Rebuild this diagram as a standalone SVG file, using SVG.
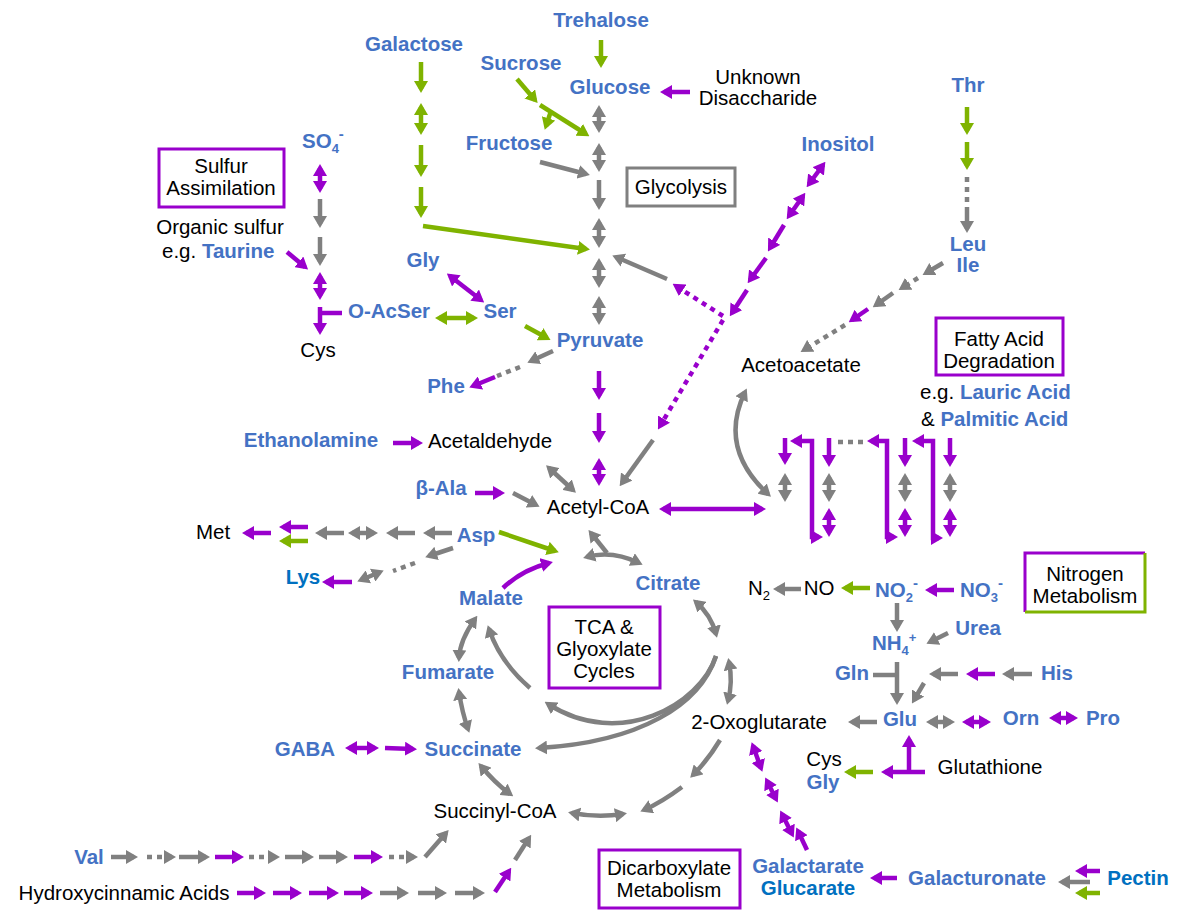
<svg xmlns="http://www.w3.org/2000/svg" width="1186" height="920" viewBox="0 0 1186 920">
<defs>
<style>
text{font-family:"Liberation Sans",Arial,sans-serif;font-size:20.5px;text-anchor:middle;fill:#000}
.b{fill:#4472C4;font-weight:bold}
.db{fill:#0070C0;font-weight:bold}
.s{text-anchor:start}
#connectors path{fill:none;stroke-width:4.5}
.g{stroke:#808080}.p{stroke:#9900CC}.n{stroke:#7FB300}
.d{stroke-dasharray:5 5}
.g.e{marker-end:url(#mg)}.g.bo{marker-start:url(#mg);marker-end:url(#mg)}
.p.e{marker-end:url(#mp)}.p.bo{marker-start:url(#mp);marker-end:url(#mp)}
.n.e{marker-end:url(#mn)}.n.bo{marker-start:url(#mn);marker-end:url(#mn)}
.box{fill:#fff;stroke-width:3}
</style>
<marker id="mg" viewBox="0 0 12 14" markerWidth="12" markerHeight="14" refX="8" refY="7" markerUnits="userSpaceOnUse" orient="auto-start-reverse"><path d="M0,0 L12,7 L0,14 z" fill="#808080" stroke="none"/></marker>
<marker id="mp" viewBox="0 0 12 14" markerWidth="12" markerHeight="14" refX="8" refY="7" markerUnits="userSpaceOnUse" orient="auto-start-reverse"><path d="M0,0 L12,7 L0,14 z" fill="#9900CC" stroke="none"/></marker>
<marker id="mn" viewBox="0 0 12 14" markerWidth="12" markerHeight="14" refX="8" refY="7" markerUnits="userSpaceOnUse" orient="auto-start-reverse"><path d="M0,0 L12,7 L0,14 z" fill="#7FB300" stroke="none"/></marker>
</defs>
<rect width="1186" height="920" fill="#fff"/>

<g id="connectors">
<!-- glycolysis column -->
<path class="n e" d="M601,40 V64"/>
<path class="g bo" d="M599,109 V129"/>
<path class="g bo" d="M599,147 V168"/>
<path class="g e" d="M599,180 V206"/>
<path class="g bo" d="M599,222 V244"/>
<path class="g bo" d="M599,262 V284"/>
<path class="g bo" d="M599,300 V321"/>
<path class="p e" d="M599,371 V396"/>
<path class="p e" d="M599,413 V439"/>
<path class="p bo" d="M599,462 V482"/>
<path class="p e" d="M690,92 H664"/>
<!-- galactose -->
<path class="n e" d="M421,62 V89"/>
<path class="n bo" d="M421,107 V131"/>
<path class="n e" d="M421,145 V173"/>
<path class="n e" d="M421,187 V214"/>
<path class="n e" d="M423,226 L586,249"/>
<!-- sucrose -->
<path class="n e" d="M517,79 L535,100"/>
<path class="n e" d="M540,105 L586,134"/>
<path class="n e" d="M551,111 L546,126"/>
<path class="g e" d="M540,162 L586,174"/>
<!-- inositol -->
<path class="g e" d="M667,279 L616,257"/>
<path class="p d e" d="M723,316 L676,286"/>
<path class="p d e" d="M723,320 L660,426"/>
<path class="g e" d="M653,440 L622,483"/>
<path class="p bo" d="M823,165 L809,184"/>
<path class="p bo" d="M803,196 L789,216"/>
<path class="p e" d="M784,225 L770,248"/>
<path class="p e" d="M766,258 L750,280"/>
<path class="p e" d="M747,290 L732,313"/>
<!-- Thr -->
<path class="n e" d="M967,107 V131"/>
<path class="n e" d="M967,142 V166"/>
<path class="g d" d="M967,177 V202"/>
<path class="g e" d="M967,207 V229"/>
<path class="g e" d="M943,263 L926,273"/>
<path class="g d e" d="M918,278 L902,288"/>
<path class="g e" d="M893,293 L876,305"/>
<path class="p e" d="M868,309 L852,320"/>
<path class="g d e" d="M845,325 L804,350"/>
<!-- acetoacetate / fatty acids -->
<path class="g bo" d="M745,392 Q718,448 768,494"/>
<path class="p bo" d="M663,509 H762"/>
<path class="p e" d="M785,438 V461"/>
<path class="g bo" d="M785,477 V498"/>
<path class="p bo" d="M794,441 H812 V537 H819"/>
<path class="p e" d="M829,438 V463"/>
<path class="g bo" d="M829,477 V498"/>
<path class="p bo" d="M829,512 V533"/>
<path class="g d" d="M838,442 H863"/>
<path class="p bo" d="M871,441 H887 V537 H894"/>
<path class="p e" d="M905,438 V463"/>
<path class="g bo" d="M905,477 V498"/>
<path class="p bo" d="M905,512 V533"/>
<path class="p bo" d="M916,441 H933 V538 H939"/>
<path class="p e" d="M950,438 V463"/>
<path class="g bo" d="M950,477 V498"/>
<path class="p bo" d="M950,512 V533"/>
<!-- sulfur -->
<path class="p bo" d="M320,168 V189"/>
<path class="g e" d="M320,199 V224"/>
<path class="g e" d="M320,237 V262"/>
<path class="p bo" d="M320,276 V296"/>
<path class="p e" d="M320,307 V331"/>
<path class="p" d="M318,313 H342"/>
<path class="p e" d="M287,252 L305,267"/>
<path class="p bo" d="M450,276 L481,300"/>
<path class="n bo" d="M439,318 H474"/>
<path class="n e" d="M525,326 L547,338"/>
<path class="g e" d="M553,351 L531,361"/>
<path class="g d" d="M520,367 L497,376"/>
<path class="p e" d="M495,377 L473,386"/>
<!-- acetyl-coa inputs -->
<path class="p e" d="M393,443 H419"/>
<path class="g bo" d="M549,468 L573,490"/>
<path class="p e" d="M475,493 H501"/>
<path class="g e" d="M513,493 L536,505"/>
<!-- Asp / Met / Lys -->
<path class="p e" d="M271,533 H246"/>
<path class="p e" d="M308,527 H283"/>
<path class="n e" d="M308,541 H283"/>
<path class="g e" d="M344,533 H319"/>
<path class="g bo" d="M352,533 H374"/>
<path class="g e" d="M415,533 H390"/>
<path class="g e" d="M452,533 H427"/>
<path class="g e" d="M453,548 L429,556"/>
<path class="g d" d="M415,563 L393,571"/>
<path class="g bo" d="M380,572 L361,580"/>
<path class="p e" d="M352,582 H326"/>
<path class="n e" d="M499,532 L555,551"/>
<path class="p e" d="M503,588 Q522,570 549,563"/>
<path class="g e" d="M607,553 L591,533"/>
<path class="g bo" d="M587,557 Q612,550 639,563"/>
<!-- TCA -->
<path class="g bo" d="M696,602 Q711,615 716,634"/>
<path class="g bo" d="M729,662 Q733,682 728,701"/>
<path class="g e" d="M530,688 Q500,662 489,629"/>
<path class="g e" d="M716,656 C700,705 620,750 548,704"/>
<path class="g e" d="M716,656 C700,705 640,742 539,748"/>
<path class="g bo" d="M475,619 Q460,640 459,658"/>
<path class="g bo" d="M459,692 Q462,712 468,729"/>
<path class="g bo" d="M481,766 Q495,783 510,794"/>
<path class="g bo" d="M572,813 Q598,818 623,814"/>
<path class="g e" d="M720,740 Q708,760 693,775"/>
<path class="g e" d="M682,787 Q662,802 644,810"/>
<!-- GABA -->
<path class="p bo" d="M349,748 H375"/>
<path class="p e" d="M385,748 L413,749"/>
<!-- Val row -->
<path class="g e" d="M111,857 H134"/>
<path class="g d e" d="M147,857 H172"/>
<path class="g e" d="M179,857 H206"/>
<path class="p e" d="M215,857 H240"/>
<path class="g d e" d="M249,857 H276"/>
<path class="g e" d="M285,857 H310"/>
<path class="g e" d="M319,857 H344"/>
<path class="p e" d="M354,857 H379"/>
<path class="g d e" d="M389,857 H414"/>
<path class="g e" d="M425,857 L446,833"/>
<!-- Hydroxycinnamic row -->
<path class="p e" d="M237,893 H262"/>
<path class="p e" d="M273,893 H298"/>
<path class="p e" d="M309,893 H335"/>
<path class="p e" d="M344,893 H369"/>
<path class="g e" d="M380,893 H405"/>
<path class="g e" d="M418,893 H443"/>
<path class="g e" d="M455,893 H481"/>
<path class="p e" d="M495,892 L509,871"/>
<path class="g e" d="M515,860 L529,838"/>
<!-- Nitrogen -->
<path class="g e" d="M801,589 H777"/>
<path class="n e" d="M870,588 H845"/>
<path class="p e" d="M954,590 H929"/>
<path class="g e" d="M897,603 V628"/>
<path class="g e" d="M948,633 L930,642"/>
<path class="g" d="M873,675 H897"/>
<path class="g e" d="M897,662 V701"/>
<path class="g e" d="M924,683 L914,700"/>
<path class="g e" d="M958,674 H933"/>
<path class="p e" d="M995,674 H970"/>
<path class="g e" d="M1032,674 H1006"/>
<path class="g e" d="M877,722 H852"/>
<path class="g bo" d="M930,722 H951"/>
<path class="p bo" d="M966,722 H987"/>
<path class="p bo" d="M1053,718 H1074"/>
<path class="p e" d="M925,772 H885"/>
<path class="p e" d="M909,772 V739"/>
<path class="n e" d="M873,772 H848"/>
<!-- Dicarboxylate -->
<path class="p bo" d="M753,746 L761,768"/>
<path class="p bo" d="M767,781 L776,799"/>
<path class="p bo" d="M782,814 L792,834"/>
<path class="p e" d="M807,850 L798,831"/>
<path class="p e" d="M897,878 H874"/>
<path class="p e" d="M1100,871 H1079"/>
<path class="g e" d="M1090,882 H1062"/>
<path class="n e" d="M1100,893 H1079"/>
</g>

<g id="box-sulfur"><rect class="box" x="159" y="149" width="125" height="58" stroke="#9900CC"/><text x="221" y="173">Sulfur</text><text x="221" y="195">Assimilation</text></g>
<g id="box-glycolysis"><rect class="box" x="627" y="168" width="108" height="38" stroke="#808080"/><text x="681" y="194">Glycolysis</text></g>
<g id="box-fatty"><rect class="box" x="936" y="318" width="127" height="57" stroke="#9900CC"/><text x="999" y="346">Fatty Acid</text><text x="999" y="368">Degradation</text></g>
<g id="box-tca"><rect class="box" x="549" y="607" width="111" height="81" stroke="#9900CC"/><text x="604" y="634">TCA &amp;</text><text x="604" y="656">Glyoxylate</text><text x="604" y="678">Cycles</text></g>
<g id="box-nitrogen"><rect x="1025" y="553" width="120" height="59" fill="#fff"/><path d="M1025,612 V553 H1145" fill="none" stroke="#9900CC" stroke-width="3"/><path d="M1145,553 V612 H1025" fill="none" stroke="#7FB300" stroke-width="3"/><text x="1085" y="581">Nitrogen</text><text x="1085" y="603">Metabolism</text></g>
<g id="box-dicarboxylate"><rect class="box" x="599" y="850" width="141" height="58" stroke="#9900CC"/><text x="669" y="875">Dicarboxylate</text><text x="669" y="897">Metabolism</text></g>

<g id="n-trehalose"><text class="b" x="601" y="27">Trehalose</text></g>
<g id="n-galactose"><text class="b" x="414" y="51">Galactose</text></g>
<g id="n-sucrose"><text class="b" x="521" y="70">Sucrose</text></g>
<g id="n-glucose"><text class="b" x="610" y="94">Glucose</text></g>
<g id="n-unknown"><text x="758" y="84">Unknown</text><text x="758" y="105">Disaccharide</text></g>
<g id="n-fructose"><text class="b" x="509" y="150">Fructose</text></g>
<g id="n-inositol"><text class="b" x="838" y="151">Inositol</text></g>
<g id="n-thr"><text class="b" x="968" y="92">Thr</text></g>
<g id="n-so4"><text class="b s" x="302" y="148">SO<tspan font-size="13" dy="5">4</tspan><tspan font-size="15" dy="-14">-</tspan></text></g>
<g id="n-orgsulfur"><text x="220" y="234">Organic sulfur</text><text class="s" x="162" y="258">e.g. <tspan class="b">Taurine</tspan></text></g>
<g id="n-leu"><text class="b" x="968" y="251">Leu</text><text class="b" x="968" y="272">Ile</text></g>
<g id="n-gly"><text class="b" x="423" y="267">Gly</text></g>
<g id="n-oacser"><text class="b" x="389" y="318">O-AcSer</text></g>
<g id="n-ser"><text class="b" x="500" y="318">Ser</text></g>
<g id="n-pyruvate"><text class="b" x="600" y="347">Pyruvate</text></g>
<g id="n-cys"><text x="318" y="357">Cys</text></g>
<g id="n-acetoacetate"><text x="801" y="372">Acetoacetate</text></g>
<g id="n-phe"><text class="b" x="446" y="393">Phe</text></g>
<g id="n-fattyacids"><text class="s" x="920" y="399">e.g. <tspan class="b">Lauric Acid</tspan></text><text class="s" x="921" y="426">&amp; <tspan class="b">Palmitic Acid</tspan></text></g>
<g id="n-ethanolamine"><text class="b" x="311" y="447">Ethanolamine</text></g>
<g id="n-acetaldehyde"><text x="490" y="448">Acetaldehyde</text></g>
<g id="n-bala"><text class="b" x="441" y="495">β-Ala</text></g>
<g id="n-acetylcoa"><text x="598" y="514">Acetyl-CoA</text></g>
<g id="n-met"><text x="213" y="539">Met</text></g>
<g id="n-asp"><text class="b" x="476" y="542">Asp</text></g>
<g id="n-lys"><text class="db" x="303" y="584">Lys</text></g>
<g id="n-citrate"><text class="b" x="668" y="590">Citrate</text></g>
<g id="n-n2"><text class="s" x="748" y="595">N<tspan font-size="13" dy="5">2</tspan></text></g>
<g id="n-no"><text x="819" y="595">NO</text></g>
<g id="n-no2"><text class="b s" x="875" y="597">NO<tspan font-size="13" dy="5">2</tspan><tspan font-size="15" dy="-14">-</tspan></text></g>
<g id="n-no3"><text class="b s" x="960" y="597">NO<tspan font-size="13" dy="5">3</tspan><tspan font-size="15" dy="-14">-</tspan></text></g>
<g id="n-malate"><text class="b" x="491" y="605">Malate</text></g>
<g id="n-urea"><text class="b" x="978" y="635">Urea</text></g>
<g id="n-nh4"><text class="b s" x="872" y="650">NH<tspan font-size="13" dy="5">4</tspan><tspan font-size="13" dy="-13">+</tspan></text></g>
<g id="n-fumarate"><text class="b" x="448" y="679">Fumarate</text></g>
<g id="n-gln"><text class="b" x="852" y="680">Gln</text></g>
<g id="n-his"><text class="b" x="1057" y="680">His</text></g>
<g id="n-oxoglutarate"><text x="759" y="729">2-Oxoglutarate</text></g>
<g id="n-glu"><text class="b" x="900" y="726">Glu</text></g>
<g id="n-orn"><text class="b" x="1021" y="725">Orn</text></g>
<g id="n-pro"><text class="b" x="1103" y="725">Pro</text></g>
<g id="n-gaba"><text class="b" x="305" y="756">GABA</text></g>
<g id="n-succinate"><text class="b" x="473" y="756">Succinate</text></g>
<g id="n-cysgly"><text x="824" y="766">Cys</text><text class="b" x="823" y="789">Gly</text></g>
<g id="n-glutathione"><text x="990" y="774">Glutathione</text></g>
<g id="n-succinylcoa"><text x="495" y="818">Succinyl-CoA</text></g>
<g id="n-val"><text class="b" x="89" y="864">Val</text></g>
<g id="n-galactarate"><text class="b" x="808" y="873">Galactarate</text><text class="db" x="808" y="895">Glucarate</text></g>
<g id="n-galacturonate"><text class="b" x="977" y="885">Galacturonate</text></g>
<g id="n-pectin"><text class="db" x="1138" y="885">Pectin</text></g>
<g id="n-hydroxycinnamic"><text x="124" y="900">Hydroxycinnamic Acids</text></g>
</svg>
